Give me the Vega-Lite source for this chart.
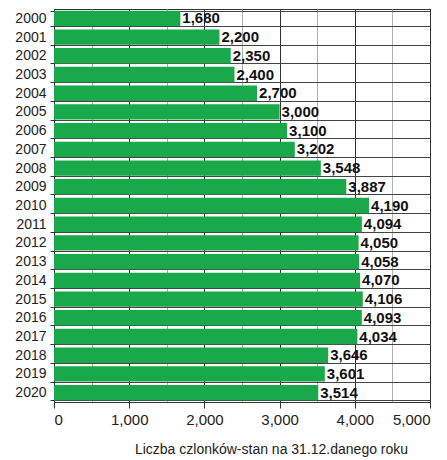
{
  "$schema": "https://vega.github.io/schema/vega-lite/v6.json",
  "width": 376,
  "height": 393,
  "autosize": {"type": "none"},
  "padding": {"left": 54, "top": 9, "right": 17, "bottom": 58},
  "background": "white",
  "config": {"view": {"stroke": "#333", "strokeWidth": 1}},
  "data": {"values": [
    {"year": "2000", "value": 1680},
    {"year": "2001", "value": 2200},
    {"year": "2002", "value": 2350},
    {"year": "2003", "value": 2400},
    {"year": "2004", "value": 2700},
    {"year": "2005", "value": 3000},
    {"year": "2006", "value": 3100},
    {"year": "2007", "value": 3202},
    {"year": "2008", "value": 3548},
    {"year": "2009", "value": 3887},
    {"year": "2010", "value": 4190},
    {"year": "2011", "value": 4094},
    {"year": "2012", "value": 4050},
    {"year": "2013", "value": 4058},
    {"year": "2014", "value": 4070},
    {"year": "2015", "value": 4106},
    {"year": "2016", "value": 4093},
    {"year": "2017", "value": 4034},
    {"year": "2018", "value": 3646},
    {"year": "2019", "value": 3601},
    {"year": "2020", "value": 3514}
  ]},
  "encoding": {
    "y": {
      "field": "year", "type": "ordinal",
      "scale": {"paddingInner": 0.18, "paddingOuter": 0.09},
      "axis": {
        "title": null, "tickBand": "extent", "grid": true,
        "gridColor": "#444", "gridOpacity": 1, "domainColor": "#333",
        "tickColor": "#333", "tickSize": 4, "labelFontSize": 14,
        "labelColor": "#222", "labelFont": "Liberation Sans", "labelPadding": 4
      }
    },
    "x": {
      "field": "value", "type": "quantitative",
      "scale": {"domain": [0, 5000], "nice": false},
      "axis": {
        "values": [0, 500, 1000, 1500, 2000, 2500, 3000, 3500, 4000, 4500, 5000],
        "labelExpr": "datum.value % 1000 === 0 ? format(datum.value, ',') : ''",
        "grid": true,
        "gridColor": {"condition": {"test": "datum.value % 1000 === 0", "value": "#333"}, "value": "#b0b0b0"},
        "gridOpacity": 1,
        "tickOpacity": {"condition": {"test": "datum.value % 1000 === 0", "value": 1}, "value": 0},
        "tickColor": "#333", "tickSize": 6, "domainColor": "#333",
        "labelFontSize": 15, "labelColor": "#222", "labelFont": "Liberation Sans", "labelPadding": 4,
        "title": "Liczba czlonków-stan na 31.12.danego roku",
        "titleFont": "Liberation Sans", "titleFontSize": 14, "titleFontWeight": "normal",
        "titleColor": "#222", "titleX": 217, "titleY": 47, "titleBaseline": "middle", "titleAlign": "center"
      }
    }
  },
  "layer": [
    {"mark": {"type": "bar", "color": "#19a84a"}},
    {
      "mark": {"type": "text", "align": "left", "dx": 2, "font": "Liberation Sans", "fontSize": 15, "fontWeight": "bold", "color": "#111"},
      "encoding": {"text": {"field": "value", "type": "quantitative", "format": ","}}
    }
  ]
}
